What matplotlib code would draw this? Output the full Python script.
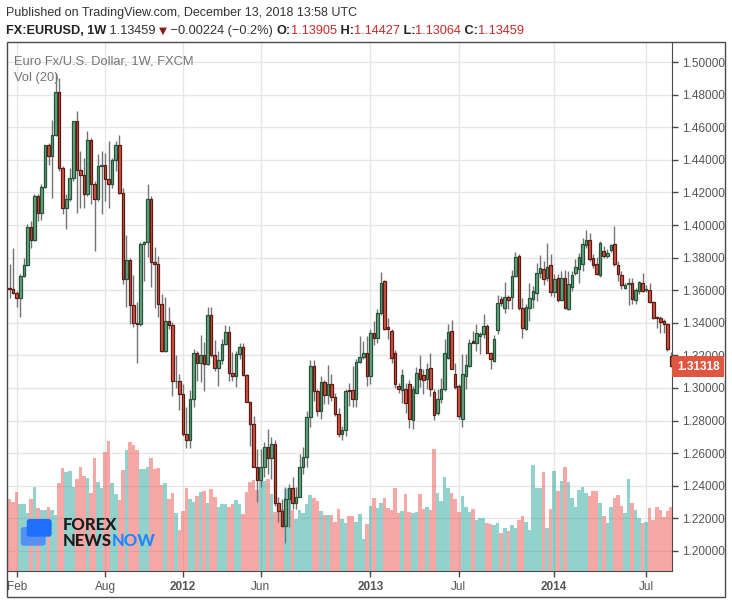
import matplotlib
matplotlib.use('Agg')
import matplotlib.pyplot as plt
import matplotlib.transforms as mtransforms
from matplotlib.patches import Rectangle, FancyBboxPatch
from matplotlib.ticker import FormatStrFormatter
import numpy as np
import pandas as pd

# weekly EUR/USD candles, first bar = week of 2011-01-24
first_week = '2011-01-24'

opens = [
    1.3616, 1.3610, 1.3582, 1.3551, 1.3688, 1.3755, 1.3988, 1.3906, 1.4178, 1.4076,
    1.4233, 1.4488, 1.4422, 1.4551, 1.4814, 1.4351, 1.4106, 1.4157, 1.4286, 1.4637,
    1.4335, 1.4304, 1.4188, 1.4524, 1.4253, 1.4157, 1.4365, 1.4371, 1.4280, 1.4249,
    1.4396, 1.4494, 1.4196, 1.3668, 1.3785, 1.3509, 1.3396, 1.3390, 1.3883, 1.3895,
    1.4159, 1.3773, 1.3760, 1.3515, 1.3229, 1.3413, 1.3388, 1.3041, 1.3045, 1.2963,
    1.2717, 1.2681, 1.2932, 1.3212, 1.3153, 1.3204, 1.3147, 1.3449, 1.3202, 1.3122,
    1.3171, 1.3270, 1.3343, 1.3092, 1.3075, 1.3208, 1.3249, 1.3079, 1.2916, 1.2779,
    1.2517, 1.2435, 1.2517, 1.2640, 1.2570, 1.2656, 1.2292, 1.2247, 1.2155, 1.2319,
    1.2386, 1.2292, 1.2333, 1.2517, 1.2574, 1.2820, 1.3137, 1.2979, 1.2856, 1.3038,
    1.2959, 1.3024, 1.2946, 1.2840, 1.2716, 1.2743, 1.2986, 1.2986, 1.2931, 1.3160,
    1.3191, 1.3217, 1.3074, 1.3340, 1.3309, 1.3458, 1.3655, 1.3377, 1.3348, 1.3217,
    1.3013, 1.2988, 1.2992, 1.3026, 1.2804, 1.2972, 1.3115, 1.3078, 1.3053, 1.3121,
    1.2976, 1.2845, 1.2935, 1.2992, 1.3187, 1.3350, 1.3084, 1.3013, 1.2808, 1.3074,
    1.3135, 1.3287, 1.3279, 1.3320, 1.3330, 1.3381, 1.3213, 1.3166, 1.3356, 1.3544,
    1.3489, 1.3558, 1.3558, 1.3687, 1.3810, 1.3489, 1.3360, 1.3493, 1.3544, 1.3585,
    1.3703, 1.3728, 1.3673, 1.3753, 1.3589, 1.3677, 1.3538, 1.3673, 1.3483, 1.3620,
    1.3708, 1.3728, 1.3759, 1.3877, 1.3906, 1.3796, 1.3759, 1.3693, 1.3840, 1.3808,
    1.3845, 1.3881, 1.3755, 1.3693, 1.3616, 1.3636, 1.3644, 1.3538, 1.3595, 1.3644,
    1.3599, 1.3599, 1.3528, 1.3436, 1.3427, 1.3411, 1.3391, 1.3196,
]
highs = [
    1.3759, 1.3861, 1.3596, 1.3698, 1.3800, 1.4008, 1.4024, 1.4188, 1.4188, 1.4253,
    1.4494, 1.4504, 1.4647, 1.4935, 1.4902, 1.4361, 1.4188, 1.4351, 1.4641, 1.4698,
    1.4453, 1.4412, 1.4576, 1.4535, 1.4269, 1.4433, 1.4453, 1.4443, 1.4514, 1.4412,
    1.4514, 1.4555, 1.4230, 1.3940, 1.3797, 1.3693, 1.3529, 1.3897, 1.3903, 1.4251,
    1.4180, 1.3863, 1.3811, 1.3576, 1.3556, 1.3494, 1.3402, 1.3204, 1.3085, 1.3024,
    1.2885, 1.2989, 1.3239, 1.3229, 1.3327, 1.3280, 1.3494, 1.3494, 1.3294, 1.3229,
    1.3300, 1.3388, 1.3382, 1.3218, 1.3229, 1.3274, 1.3274, 1.3085, 1.2922, 1.2830,
    1.2625, 1.2625, 1.2666, 1.2748, 1.2697, 1.2681, 1.2329, 1.2319, 1.2390, 1.2411,
    1.2452, 1.2390, 1.2595, 1.2640, 1.2861, 1.3171, 1.3171, 1.2993, 1.3075, 1.3049,
    1.3143, 1.3085, 1.2967, 1.2877, 1.2767, 1.2992, 1.3033, 1.3135, 1.3176, 1.3319,
    1.3289, 1.3319, 1.3360, 1.3411, 1.3487, 1.3712, 1.3663, 1.3432, 1.3360, 1.3234,
    1.3033, 1.3115, 1.3033, 1.3046, 1.3013, 1.3126, 1.3201, 1.3115, 1.3156, 1.3217,
    1.2992, 1.2992, 1.3064, 1.3299, 1.3391, 1.3418, 1.3152, 1.3023, 1.3207, 1.3207,
    1.3303, 1.3350, 1.3391, 1.3344, 1.3452, 1.3391, 1.3221, 1.3323, 1.3569, 1.3565,
    1.3650, 1.3571, 1.3722, 1.3836, 1.3820, 1.3550, 1.3513, 1.3646, 1.3626, 1.3769,
    1.3816, 1.3779, 1.3892, 1.3820, 1.3697, 1.3697, 1.3718, 1.3722, 1.3718, 1.3718,
    1.3789, 1.3830, 1.3922, 1.3967, 1.3953, 1.3820, 1.3804, 1.3902, 1.3871, 1.3851,
    1.3885, 1.3996, 1.3779, 1.3718, 1.3646, 1.3677, 1.3677, 1.3616, 1.3656, 1.3708,
    1.3632, 1.3646, 1.3534, 1.3442, 1.3442, 1.3421, 1.3401, 1.3223,
]
lows = [
    1.3551, 1.3576, 1.3498, 1.3433, 1.3682, 1.3750, 1.3861, 1.3902, 1.4024, 1.4029,
    1.4229, 1.4371, 1.4163, 1.4545, 1.4331, 1.4065, 1.3973, 1.4147, 1.4269, 1.4076,
    1.4106, 1.4106, 1.4178, 1.4127, 1.3841, 1.4147, 1.4065, 1.4147, 1.4106, 1.4229,
    1.4331, 1.4188, 1.3638, 1.3499, 1.3392, 1.3372, 1.3151, 1.3382, 1.3658, 1.3805,
    1.3617, 1.3488, 1.3433, 1.3218, 1.3220, 1.3362, 1.2953, 1.3000, 1.2865, 1.2707,
    1.2631, 1.2631, 1.2885, 1.3040, 1.3034, 1.2983, 1.3140, 1.3188, 1.3106, 1.3014,
    1.3147, 1.3262, 1.3040, 1.3045, 1.3008, 1.3178, 1.3075, 1.2912, 1.2646, 1.2513,
    1.2298, 1.2390, 1.2452, 1.2472, 1.2441, 1.2278, 1.2175, 1.2150, 1.2047, 1.2145,
    1.2257, 1.2257, 1.2329, 1.2472, 1.2513, 1.2758, 1.2922, 1.2830, 1.2809, 1.2901,
    1.2901, 1.2922, 1.2830, 1.2697, 1.2681, 1.2706, 1.2890, 1.2886, 1.2886, 1.3155,
    1.3176, 1.3013, 1.3023, 1.3262, 1.3274, 1.3446, 1.3356, 1.3299, 1.3152, 1.3002,
    1.2972, 1.2910, 1.2849, 1.2757, 1.2747, 1.2968, 1.3009, 1.2962, 1.2996, 1.2951,
    1.2804, 1.2833, 1.2910, 1.2982, 1.3176, 1.3115, 1.2996, 1.2812, 1.2763, 1.2992,
    1.3131, 1.3274, 1.3227, 1.3207, 1.3309, 1.3213, 1.3115, 1.3160, 1.3330, 1.3503,
    1.3462, 1.3483, 1.3483, 1.3680, 1.3480, 1.3305, 1.3354, 1.3411, 1.3489, 1.3534,
    1.3677, 1.3632, 1.3656, 1.3564, 1.3558, 1.3530, 1.3534, 1.3483, 1.3476, 1.3595,
    1.3693, 1.3646, 1.3718, 1.3861, 1.3779, 1.3734, 1.3693, 1.3681, 1.3796, 1.3800,
    1.3836, 1.3748, 1.3656, 1.3605, 1.3605, 1.3509, 1.3517, 1.3517, 1.3579, 1.3591,
    1.3591, 1.3524, 1.3421, 1.3370, 1.3339, 1.3339, 1.3227, 1.3129,
]
closes = [
    1.3606, 1.3582, 1.3551, 1.3688, 1.3755, 1.3988, 1.3906, 1.4178, 1.4076, 1.4233,
    1.4488, 1.4422, 1.4551, 1.4814, 1.4351, 1.4106, 1.4157, 1.4286, 1.4637, 1.4335,
    1.4304, 1.4188, 1.4524, 1.4253, 1.4157, 1.4365, 1.4371, 1.4280, 1.4249, 1.4396,
    1.4494, 1.4194, 1.3668, 1.3785, 1.3509, 1.3396, 1.3390, 1.3883, 1.3895, 1.4159,
    1.3773, 1.3760, 1.3515, 1.3229, 1.3413, 1.3386, 1.3045, 1.3045, 1.2963, 1.2717,
    1.2681, 1.2932, 1.3212, 1.3153, 1.3204, 1.3147, 1.3449, 1.3202, 1.3122, 1.3171,
    1.3270, 1.3343, 1.3092, 1.3075, 1.3208, 1.3249, 1.3079, 1.2916, 1.2779, 1.2517,
    1.2435, 1.2517, 1.2640, 1.2570, 1.2656, 1.2292, 1.2247, 1.2155, 1.2319, 1.2386,
    1.2292, 1.2333, 1.2517, 1.2574, 1.2820, 1.3137, 1.2979, 1.2856, 1.3038, 1.2959,
    1.3024, 1.2946, 1.2840, 1.2717, 1.2743, 1.2982, 1.2982, 1.2931, 1.3160, 1.3191,
    1.3217, 1.3074, 1.3340, 1.3309, 1.3458, 1.3643, 1.3364, 1.3364, 1.3187, 1.3023,
    1.2996, 1.3078, 1.2906, 1.2812, 1.2996, 1.3089, 1.3058, 1.3049, 1.3115, 1.2992,
    1.2833, 1.2935, 1.2996, 1.3213, 1.3344, 1.3119, 1.3009, 1.2829, 1.3084, 1.3139,
    1.3279, 1.3279, 1.3340, 1.3330, 1.3381, 1.3217, 1.3176, 1.3299, 1.3524, 1.3520,
    1.3558, 1.3538, 1.3687, 1.3804, 1.3489, 1.3366, 1.3497, 1.3554, 1.3595, 1.3703,
    1.3738, 1.3667, 1.3744, 1.3589, 1.3667, 1.3538, 1.3673, 1.3489, 1.3636, 1.3691,
    1.3742, 1.3804, 1.3881, 1.3906, 1.3789, 1.3753, 1.3701, 1.3888, 1.3808, 1.3830,
    1.3877, 1.3759, 1.3697, 1.3632, 1.3632, 1.3644, 1.3544, 1.3599, 1.3650, 1.3595,
    1.3605, 1.3528, 1.3431, 1.3427, 1.3407, 1.3395, 1.3237, 1.3132,
]
volume = [
    72, 69, 79, 67, 67, 58, 72, 84, 63, 61,
    61, 64, 61, 56, 88, 103, 99, 100, 84, 92,
    104, 95, 93, 78, 113, 89, 83, 119, 130, 88,
    77, 71, 101, 121, 129, 126, 121, 102, 102, 104,
    113, 102, 103, 86, 88, 72, 78, 58, 41, 60,
    83, 72, 69, 75, 79, 80, 68, 82, 74, 64,
    67, 67, 64, 67, 71, 67, 57, 79, 89, 91,
    81, 90, 90, 92, 77, 59, 60, 62, 82, 83,
    61, 52, 61, 58, 67, 76, 73, 70, 60, 56,
    56, 56, 49, 62, 52, 48, 55, 55, 49, 57,
    32, 47, 65, 73, 63, 68, 73, 63, 61, 83,
    58, 60, 77, 59, 58, 59, 77, 62, 64, 61,
    122, 78, 70, 94, 83, 78, 72, 59, 75, 64,
    59, 62, 51, 53, 53, 48, 47, 46, 48, 38,
    43, 40, 46, 43, 51, 55, 49, 41, 106, 83,
    83, 99, 43, 62, 100, 80, 90, 104, 89, 73,
    64, 81, 84, 78, 75, 80, 80, 68, 55, 48,
    64, 73, 76, 65, 58, 92, 68, 61, 53, 48,
    49, 63, 51, 64, 61, 54, 60, 64,
]

tick_months = ['2011-02', '2011-08', '2012-01', '2012-06', '2013-01', '2013-07', '2014-01', '2014-07']
tick_labels = ['Feb', 'Aug', '2012', 'Jun', '2013', 'Jul', '2014', 'Jul']
price_ticks = [1.20, 1.22, 1.24, 1.26, 1.28, 1.30, 1.32, 1.34, 1.36, 1.38, 1.40, 1.42, 1.44, 1.46, 1.48, 1.50]
last_price = 1.31318

UP, DOWN = '#6ba583', '#d75442'
UP_EDGE, DOWN_EDGE = '#225437', '#5b1a13'
WICK = '#737375'
VOL_UP, VOL_DOWN = '#26a69a', '#ef5350'
AXIS = '#4a4a4a'
FONT = ['Liberation Sans', 'DejaVu Sans']

o, h, l, c = (np.array(v) for v in (opens, highs, lows, closes))
x = np.arange(len(c))
up = c >= o
dates = pd.date_range(first_week, periods=len(c), freq='7D')
tick_pos = [int(np.argmax(dates.strftime('%Y-%m') == m)) for m in tick_months]

W, H = 732, 603
fig = plt.figure(figsize=(W / 100, H / 100), dpi=100)
rect = [7 / W, 1 - 571 / H, (672 - 7) / W, (571 - 42) / H]

# bottom layer: grid + scales
ax = fig.add_axes(rect, label='grid')
ax.set_xlim(-0.75, 187.3)
ax.set_ylim(1.1877, 1.5123)
ax.grid(True, color='#e6e6e6', lw=1)
ax.set_axisbelow(True)
ax.yaxis.tick_right()
ax.set_yticks(price_ticks)
ax.yaxis.set_major_formatter(FormatStrFormatter('%.5f'))
ax.set_xticks(tick_pos)
ax.set_xticklabels(tick_labels)
for t, lab in zip(ax.get_xticklabels(), tick_labels):
    t.set_fontweight('bold' if lab.isdigit() else 'normal')
ax.tick_params(axis='both', colors=AXIS, labelsize=8.5, length=4, width=1,
               labelcolor='#555555', pad=3)
for lab in ax.get_xticklabels() + ax.get_yticklabels():
    lab.set_family(FONT)
for s in ('left', 'top'):
    ax.spines[s].set_visible(False)
for s in ('right', 'bottom'):
    ax.spines[s].set_color(AXIS)

# middle layer: volume
axv = fig.add_axes(rect, label='vol', sharex=ax)
axv.patch.set_visible(False)
axv.set_axis_off()
axv.set_ylim(0, 529)
axv.bar(x, volume, width=1.0, color=np.where(up, VOL_UP, VOL_DOWN), alpha=0.5, lw=0)

# top layer: candles
axc = fig.add_axes(rect, label='candles', sharex=ax, sharey=ax)
axc.patch.set_visible(False)
axc.set_axis_off()
axc.vlines(x, l, h, color=WICK, lw=1, zorder=1)
axc.bar(x, np.maximum(np.abs(c - o), 0.0003), bottom=np.minimum(o, c), width=0.72,
        color=np.where(up, UP, DOWN), edgecolor=np.where(up, UP_EDGE, DOWN_EDGE),
        lw=0.9, zorder=2)

# last price label, box starts at the price axis line
trans = mtransforms.blended_transform_factory(ax.transAxes, ax.transData)
trans = mtransforms.offset_copy(trans, fig=fig, x=5, y=0, units='dots')
ax.text(1.0, last_price, f'{last_price:.5f}', transform=trans, ha='left', va='center',
        color='white', fontsize=8.5, fontweight='bold', family=FONT, zorder=10,
        bbox=dict(boxstyle='square,pad=0.4', fc='#df5641', ec='none'))

# outer frame
fig.add_artist(Rectangle((7 / W, 1 - 597 / H), (725 - 7) / W, (597 - 42) / H,
                         transform=fig.transFigure, fill=False, ec=AXIS, lw=1))

# legend texts inside pane
fig.text(14 / W, 1 - 62 / H, 'Euro Fx/U.S. Dollar, 1W, FXCM', color='#757575',
         fontsize=9.3, family=FONT, va='center')
fig.text(14 / W, 1 - 78 / H, 'Vol (20)', color='#757575', fontsize=9.3, family=FONT, va='center')

# header
fig.text(6 / W, 1 - 13 / H, 'Published on TradingView.com, December 13, 2018 13:58 UTC',
         color='#333333', fontsize=9, family=FONT, va='center')

renderer = fig.canvas.get_renderer()
red = '#c62828'
parts = [('FX:EURUSD, 1W', '#222222', 'bold'), (' 1.13459 ', '#333333', 'normal'),
         ('\u25bc', '#8b1a1a', 'normal'), (' \u22120.00224 (\u22120.2%) ', '#333333', 'normal'),
         ('O:', '#222222', 'bold'), ('1.13905', red, 'normal'),
         (' H:', '#222222', 'bold'), ('1.14427', red, 'normal'),
         (' L:', '#222222', 'bold'), ('1.13064', red, 'normal'),
         (' C:', '#222222', 'bold'), ('1.13459', red, 'normal')]
xpos = 6
for s, col, wt in parts:
    if s == '\u25bc':
        t = fig.text(xpos / W, 1 - 31 / H, s, color=col, fontsize=7.5,
                     family=['DejaVu Sans'], va='center')
    else:
        t = fig.text(xpos / W, 1 - 31 / H, s, color=col, fontweight=wt, fontsize=9.2,
                     family=FONT, va='center')
    xpos = t.get_window_extent(renderer).x1

# watermark logo
fig.add_artist(FancyBboxPatch((0.207, (H - 545.7) / 100), 0.25, 0.187,
                              boxstyle='round,pad=0,rounding_size=0.03',
                              transform=fig.dpi_scale_trans, fc='#4a8cf7', ec='none', alpha=0.9))
fig.add_artist(FancyBboxPatch((0.267, (H - 536.7) / 100), 0.25, 0.177,
                              boxstyle='round,pad=0,rounding_size=0.03',
                              transform=fig.dpi_scale_trans, fc='#1f6fff', ec='none'))
logo_font = ['Lato', 'DejaVu Sans']
fig.text(63 / W, 1 - 525 / H, 'FOREX', color='#1c1c1c', fontsize=12, fontweight='black',
         family=logo_font, va='center')
t = fig.text(63 / W, 1 - 540.5 / H, 'NEWS', color='#1c1c1c', fontsize=12, fontweight='black',
             family=logo_font, va='center')
xpos = t.get_window_extent(renderer).x1
fig.text(xpos / W, 1 - 540.5 / H, 'NOW', color='#1e88ff', fontsize=12, fontweight='black',
         family=logo_font, va='center')

fig.savefig('out.png', dpi=100)
